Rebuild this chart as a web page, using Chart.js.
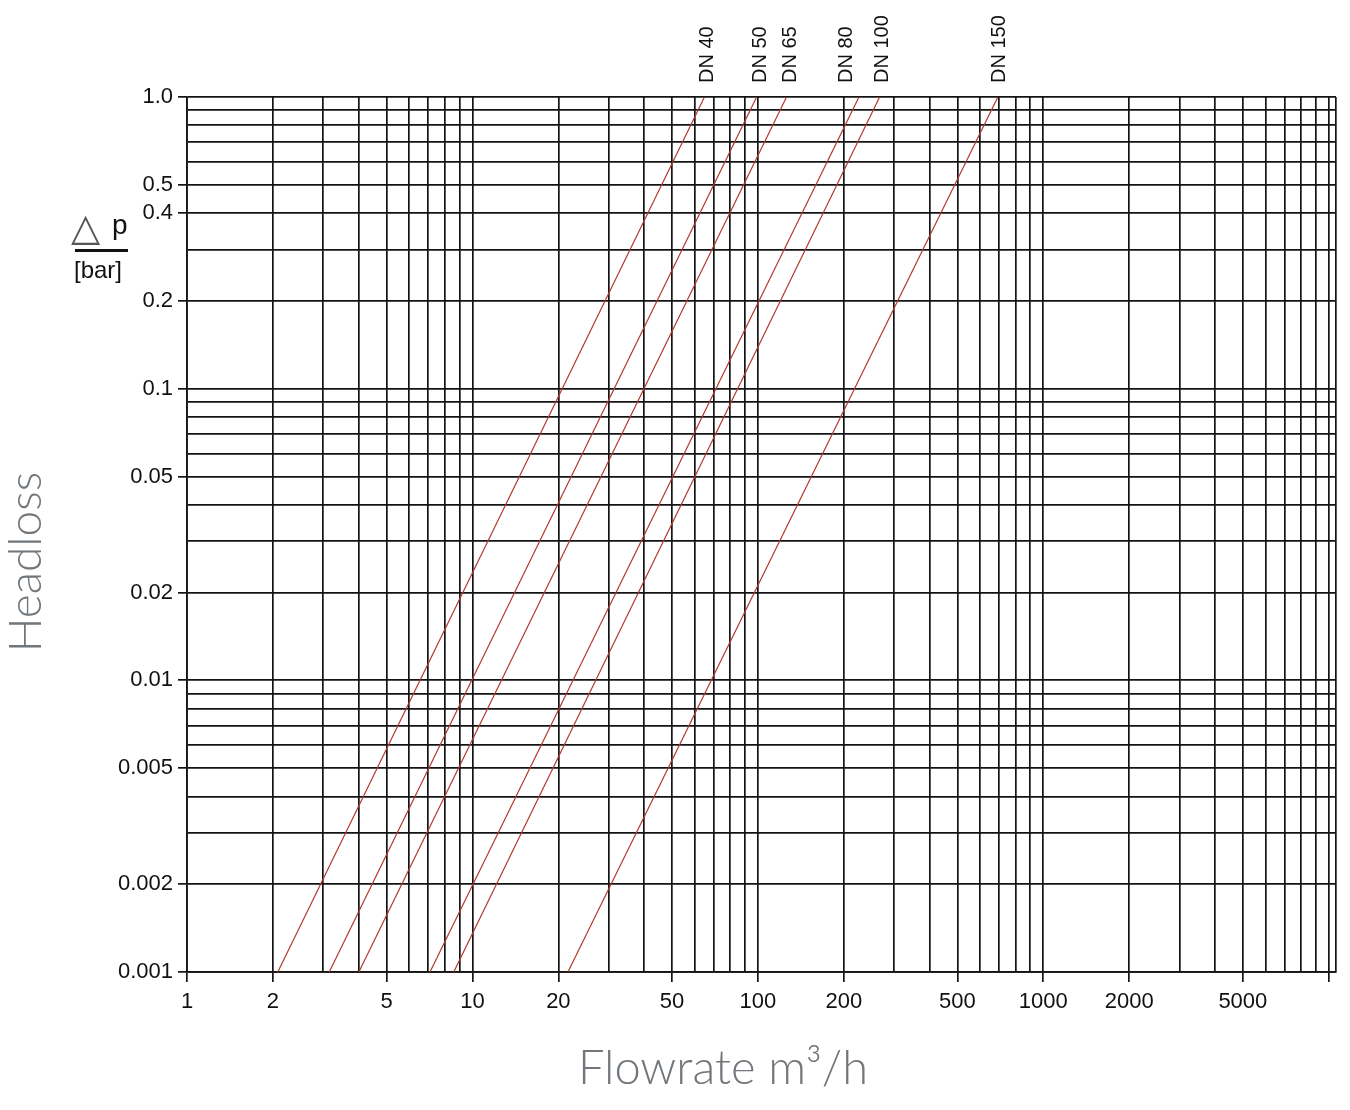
<!DOCTYPE html>
<html>
<head>
<meta charset="utf-8">
<title>Headloss</title>
<script src="https://cdn.jsdelivr.net/npm/chart.js@4.4.1/dist/chart.umd.min.js"></script>
<style>
  html, body { margin: 0; padding: 0; background: #fff; }
  canvas { display: block; }
</style>
</head>
<body>
<canvas id="headloss-chart" width="1350" height="1110"></canvas>
<script>
// valve sizes, one red line each
const dnLabels = ['DN 40', 'DN 50', 'DN 65', 'DN 80', 'DN 100', 'DN 150'];
// headloss (bar) at both ends of every line
const dpRange = [0.001, 1.0];
// flowrate (m3/h) where each line meets 0.001 bar and 1.0 bar
const flowAtMinDp = [2.08, 3.15, 4.0, 7.1, 8.6, 21.6];
const flowAtMaxDp = [65, 99, 126, 226, 267, 693];
// flowrate the DN names are printed over
const dnLabelFlow = [66.5, 102, 130, 204, 273, 702];

// axis labels
const xTickLabels = [1, 2, 5, 10, 20, 50, 100, 200, 500, 1000, 2000, 5000];
const xTickMarkOnly = [10000];
const yTickLabels = ['1.0', '0.5', '0.4', '0.2', '0.1', '0.05', '0.02', '0.01', '0.005', '0.002', '0.001'];

const xMin = 1, xMax = 10600;
const yMin = 0.001, yMax = 1;

const tickFont = '"Liberation Sans", Arial, Helvetica, sans-serif';
const gridColor = '#141414';
const lineColor = '#b3392e';

// 1..9 x 10^n grid, like the printed log paper
function logGrid(min, max) {
  const out = [];
  for (let e = Math.floor(Math.log10(min)); e <= Math.ceil(Math.log10(max)); e++) {
    for (let k = 1; k < 10; k++) {
      const v = Number((k * Math.pow(10, e)).toPrecision(4));
      if (v >= min * 0.999999 && v <= max * 1.000001) out.push(v);
    }
  }
  return out;
}
const xGrid = logGrid(xMin, xMax).concat([xMax]);
const yGrid = logGrid(yMin, yMax);

const same = (a, b) => Math.abs(a - b) < Math.abs(b) * 1e-6;
const xLabelFor = v => xTickLabels.find(t => same(v, t));
const yLabelFor = v => yTickLabels.find(t => same(v, parseFloat(t)));

const datasets = dnLabels.map((lab, i) => ({
  label: lab,
  data: [
    { x: flowAtMinDp[i], y: dpRange[0] },
    { x: flowAtMaxDp[i], y: dpRange[1] }
  ],
  borderColor: lineColor,
  borderWidth: 1.2,
  pointRadius: 0,
  fill: false,
  tension: 0
}));

const extraText = {
  id: 'extraText',
  afterDraw(chart) {
    const { ctx, chartArea, scales } = chart;
    ctx.save();

    // DN names above the top of the grid
    ctx.fillStyle = '#111';
    ctx.font = '20px ' + tickFont;
    ctx.textAlign = 'left';
    ctx.textBaseline = 'middle';
    dnLabels.forEach((lab, i) => {
      const px = scales.x.getPixelForValue(dnLabelFlow[i]);
      ctx.save();
      ctx.translate(px, chartArea.top - 14);
      ctx.rotate(-Math.PI / 2);
      ctx.fillText(lab, 0, 0);
      ctx.restore();
    });

    // delta p / [bar]
    ctx.textBaseline = 'alphabetic';
    ctx.fillStyle = '#555';
    ctx.font = '38px "DejaVu Sans", sans-serif';
    ctx.fillText('\u25B3', 71, 240);
    ctx.fillStyle = '#111';
    ctx.font = '28px ' + tickFont;
    ctx.fillText('p', 112, 234);
    ctx.fillRect(75, 249, 53, 3);
    ctx.font = '24px ' + tickFont;
    ctx.fillText('[bar]', 74, 278);

    // axis titles
    ctx.fillStyle = '#72777c';
    ctx.font = '300 46px Lato, "Open Sans", sans-serif';
    ctx.textAlign = 'center';
    ctx.save();
    ctx.translate(41, 562);
    ctx.rotate(-Math.PI / 2);
    ctx.fillText('Headloss', 0, 0);
    ctx.restore();
    ctx.font = '300 47px Lato, "Open Sans", sans-serif';
    ctx.fillText('Flowrate m\u00B3/h', 723, 1084);

    ctx.restore();
  }
};

new Chart(document.getElementById('headloss-chart').getContext('2d'), {
  type: 'line',
  data: { datasets: datasets },
  options: {
    responsive: false,
    animation: false,
    devicePixelRatio: 1,
    layout: { padding: { top: 97, right: 14, left: 0, bottom: 0 } },
    plugins: {
      legend: { display: false },
      tooltip: { enabled: false }
    },
    scales: {
      x: {
        type: 'logarithmic',
        position: 'bottom',
        min: xMin,
        max: xMax,
        afterBuildTicks: s => { s.ticks = xGrid.map(v => ({ value: v })); },
        afterFit: s => { s.height = 138; },
        ticks: {
          autoSkip: false,
          maxRotation: 0,
          minRotation: 0,
          padding: 7,
          color: '#111',
          font: { family: tickFont, size: 22 },
          callback: v => { const t = xLabelFor(v); return t === undefined ? '' : String(t); }
        },
        grid: {
          color: gridColor,
          lineWidth: 1.7,
          tickLength: 10,
          tickWidth: 1.7,
          tickColor: c => (c.tick && (xLabelFor(c.tick.value) !== undefined || xTickMarkOnly.some(t => same(c.tick.value, t)))) ? gridColor : 'rgba(0,0,0,0)'
        },
        border: { display: true, color: gridColor, width: 1.7 }
      },
      y: {
        type: 'logarithmic',
        position: 'left',
        min: yMin,
        max: yMax,
        afterBuildTicks: s => { s.ticks = yGrid.map(v => ({ value: v })); },
        afterFit: s => { s.width = 187; },
        ticks: {
          autoSkip: false,
          padding: 5,
          color: '#111',
          font: { family: tickFont, size: 22 },
          callback: v => { const t = yLabelFor(v); return t === undefined ? '' : t; }
        },
        grid: {
          color: gridColor,
          lineWidth: 1.7,
          tickLength: 9,
          tickWidth: 1.7,
          tickColor: c => (c.tick && yLabelFor(c.tick.value) !== undefined) ? gridColor : 'rgba(0,0,0,0)'
        },
        border: { display: true, color: gridColor, width: 1.7 }
      }
    }
  },
  plugins: [extraText]
});
</script>
</body>
</html>
